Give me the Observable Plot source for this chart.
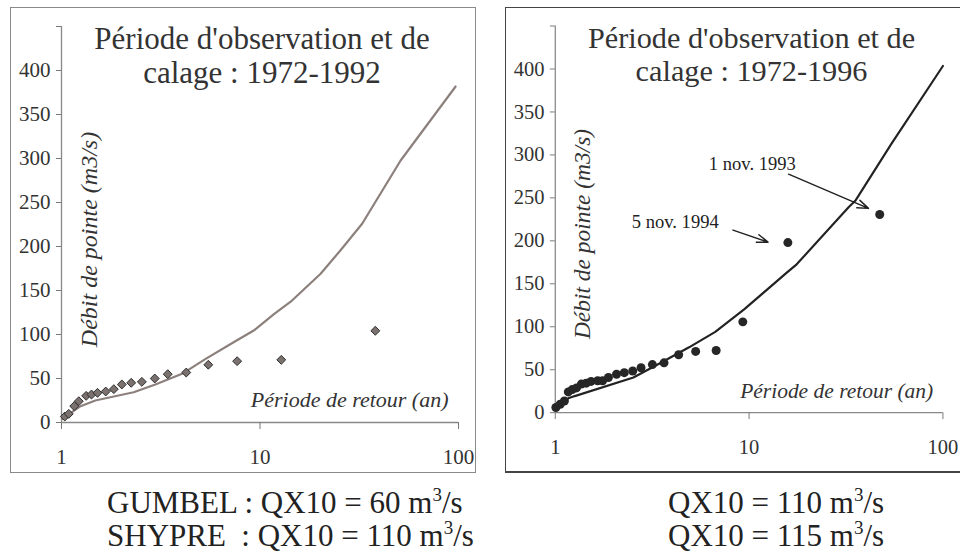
<!DOCTYPE html>
<html>
<head>
<meta charset="utf-8">
<script src="https://cdn.jsdelivr.net/npm/d3@7"></script>
<script src="https://cdn.jsdelivr.net/npm/@observablehq/plot@0.6"></script>
<style>
  html, body { margin: 0; padding: 0; background: #fff; }
  body { width: 960px; height: 553px; overflow: hidden; position: relative; font-family: "Liberation Serif", serif; color: #333; }
  .box { position: absolute; box-sizing: border-box; }
  .plot { position: absolute; }
  .plot svg, .plot svg text { font-family: "Liberation Serif", serif; }
  .cap { position: absolute; font-size: 31px; line-height: 33px; white-space: pre; color: #222; }
  .cap .line { display: block; height: 33px; }
  .cap .sup { font-size: 19px; vertical-align: 12px; line-height: 0; }
</style>
</head>
<body>
<div class="box" style="left:10px;top:7px;width:466px;height:466px;border:1.5px solid #8a8a8a;"></div>
<div class="box" style="left:505px;top:7px;width:470px;height:466px;border:1.5px solid #444;border-bottom-width:2.5px;"></div>
<div id="left" class="plot" style="left:10px;top:7px;"></div>
<div id="right" class="plot" style="left:505px;top:7px;"></div>
<div class="cap" style="left:107px;top:486px;"><span class="line">GUMBEL : QX10 = 60 m<span class="sup">3</span>/s</span><span class="line">SHYPRE  : QX10 = 110 m<span class="sup">3</span>/s</span></div>
<div class="cap" style="left:668px;top:486px;"><span class="line">QX10 = 110 m<span class="sup">3</span>/s</span><span class="line">QX10 = 115 m<span class="sup">3</span>/s</span></div>
<script>
// ---- Axis ticks ----
const xTicks = [1, 10, 100];
const yTicks = [0, 50, 100, 150, 200, 250, 300, 350, 400, 450];

// ---- Text ----
const yLabel = "Débit de pointe (m3/s)";
const xLabel = "Période de retour (an)";
const leftTitle = ["Période d'observation et de", "calage : 1972-1992"];
const rightTitle = ["Période d'observation et de", "calage : 1972-1996"];

// ---- Left panel: observed (diamonds) ----
const leftObsT = [1.039, 1.088, 1.159, 1.222, 1.331, 1.416, 1.518, 1.67, 1.835, 2.013, 2.245, 2.54, 2.95, 3.43, 4.25, 5.49, 7.67, 12.8, 38.1];
const leftObsQ = [6.8, 9.8, 18.6, 24.2, 30.3, 31.8, 33.7, 35.2, 37.9, 43.2, 45.1, 46.2, 50, 54.9, 56.8, 65.6, 69.7, 71.2, 104.2];
// ---- Left panel: fitted curve ----
const leftCurveT = [1.015, 1.11, 1.247, 1.48, 1.835, 2.31, 2.97, 4.05, 5.3, 7.4, 9.3, 11.8, 14.5, 20.2, 25.4, 32.7, 51.1, 96.7];
const leftCurveQ = [4.2, 10.6, 18.5, 25, 29.5, 34.4, 43.2, 55.3, 72, 91.5, 104.5, 123.5, 138.6, 169, 195.5, 225.8, 297.7, 381.8];

// ---- Right panel: observed (circles) ----
const rightObsT = [1.007, 1.06, 1.114, 1.167, 1.223, 1.286, 1.363, 1.444, 1.53, 1.655, 1.754, 1.88, 2.07, 2.27, 2.51, 2.77, 3.17, 3.64, 4.33, 5.3, 6.76, 9.28, 15.85, 47.2];
const rightObsQ = [6, 9.8, 13.6, 24.2, 26.9, 28.8, 33.3, 34.4, 36.4, 37.2, 37.2, 40.9, 44.7, 46.6, 48.5, 52.3, 56, 58, 67.4, 71.3, 72.4, 105.7, 198, 230.7];
// ---- Right panel: fitted curve ----
const rightCurveT = [1.0, 1.167, 1.26, 2.53, 3.45, 4.9, 6.69, 9.46, 15.7, 17.6, 32.6, 35.3, 54.2, 100];
const rightCurveQ = [4.2, 16.7, 19.3, 40.9, 57.2, 76.1, 94, 120.5, 163.3, 172.7, 239, 246.6, 312.9, 403.5];

// ---- Right panel annotations ----
const annoLabels = ["1 nov. 1993", "5 nov. 1994"];
const annoTextT = [10.39, 4.16];
const annoTextQ = [283, 214.4];
const arrowT1 = [15.98, 8.26];
const arrowQ1 = [277.6, 212.5];
const arrowT2 = [41.3, 12.52];
const arrowQ2 = [237.8, 198.5];

const FONT = "Liberation Serif";
const zip = (T, Q) => T.map((t, i) => ({T: t, Q: Q[i]}));

function panel({obs, curve, title, curveColor, dotMarks, extra = [], ylabDx, titleDx}) {
  return Plot.plot({
    width: 466, height: 466,
    marginLeft: 51, marginRight: 18, marginTop: 19, marginBottom: 51,
    x: {type: "log", domain: [xTicks[0], xTicks[xTicks.length - 1]]},
    y: {domain: [yTicks[0], yTicks[yTicks.length - 1]]},
    style: {fontFamily: FONT, color: "#333", background: "transparent", overflow: "visible"},
    marks: [
      Plot.ruleX([xTicks[0]], {stroke: "#888", strokeWidth: 1.3}),
      Plot.ruleY([yTicks[0]], {stroke: "#888", strokeWidth: 1.3}),
      Plot.axisY({ticks: yTicks, tickFormat: d => d === yTicks[yTicks.length - 1] ? "" : String(d), tickSize: 5, tickPadding: 6, fontSize: 21, fontFamily: FONT, stroke: "#777", fill: "#333", label: null}),
      Plot.axisX({ticks: xTicks, tickFormat: d => String(d), tickSize: 7, tickPadding: 20, fontSize: 21, fontFamily: FONT, stroke: "#777", fill: "#333", label: null}),
      Plot.text([title[0]], {frameAnchor: "top", textAnchor: "middle", lineAnchor: "top", fontSize: 31, fontFamily: FONT, dx: titleDx, dy: 0, fill: "#333"}),
      Plot.text([title[1]], {frameAnchor: "top", textAnchor: "middle", lineAnchor: "top", fontSize: 31, fontFamily: FONT, dx: titleDx, dy: 34, fill: "#333"}),
      Plot.text([yLabel], {frameAnchor: "left", textAnchor: "middle", lineAnchor: "middle", rotate: -90, dx: ylabDx, dy: 15, fontSize: 24, fontFamily: FONT, fontStyle: "italic", fill: "#333"}),
      Plot.text([xLabel], {frameAnchor: "bottom-right", textAnchor: "end", lineAnchor: "bottom", dx: -10, dy: -15.5, fontSize: 22, fontFamily: FONT, fontStyle: "italic", fill: "#333"}),
      Plot.line(curve, {x: "T", y: "Q", stroke: curveColor, strokeWidth: 2.2}),
      ...dotMarks(obs),
      ...extra
    ]
  });
}

const leftPlot = panel({
  obs: zip(leftObsT, leftObsQ),
  curve: zip(leftCurveT, leftCurveQ),
  title: leftTitle,
  curveColor: "#8c807d",
  ylabDx: 28,
  titleDx: 2,
  dotMarks: d => [Plot.dot(d, {x: "T", y: "Q", symbol: "diamond2", r: 4, fill: "#7b716e", stroke: "#2e2e2e", strokeWidth: 1})]
});

const annos = annoLabels.map((l, i) => ({label: l, T: annoTextT[i], Q: annoTextQ[i]}));
const arrows = arrowT1.map((t, i) => ({T1: t, Q1: arrowQ1[i], T2: arrowT2[i], Q2: arrowQ2[i]}));

const rightPlot = panel({
  obs: zip(rightObsT, rightObsQ),
  curve: zip(rightCurveT, rightCurveQ),
  title: rightTitle,
  curveColor: "#222",
  ylabDx: 27.5,
  titleDx: 2.5,
  dotMarks: d => [Plot.dot(d, {x: "T", y: "Q", r: 4.6, fill: "#262626", stroke: "none"})],
  extra: [
    Plot.arrow(arrows, {x1: "T1", y1: "Q1", x2: "T2", y2: "Q2", stroke: "#222", strokeWidth: 1.5, headLength: 12, headAngle: 40}),
    Plot.text(annos, {x: "T", y: "Q", text: "label", lineAnchor: "bottom", fontSize: 19, fontFamily: FONT, fill: "#222"})
  ]
});

document.getElementById("left").appendChild(leftPlot);
document.getElementById("right").appendChild(rightPlot);
</script>
</body>
</html>
